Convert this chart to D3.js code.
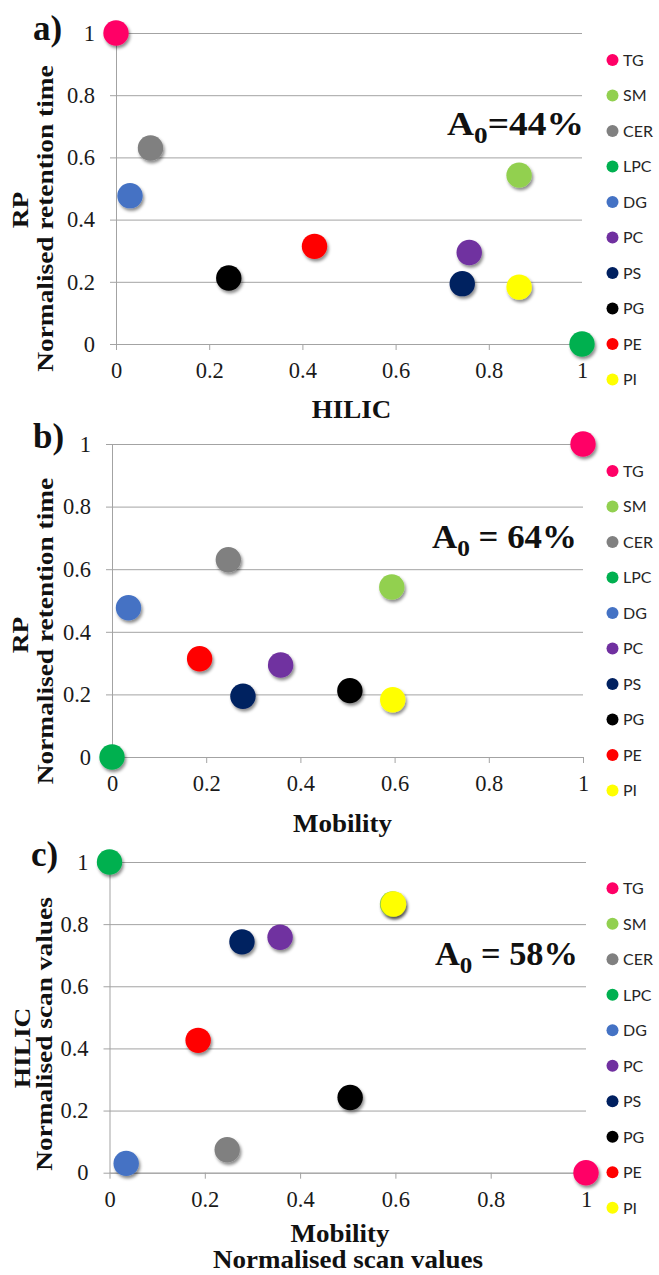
<!DOCTYPE html>
<html>
<head>
<meta charset="utf-8">
<script src="https://cdn.jsdelivr.net/npm/d3@7"></script>
<style>
  html, body { margin: 0; padding: 0; background: #fff; }
  svg { display: block; }
  .title { font-family: "Liberation Serif", "Times New Roman", serif; font-weight: bold; fill: #111; }
  .legend text { font-family: Lato, "Open Sans", sans-serif; font-size: 16px; fill: #262626; }
</style>
</head>
<body>
<svg id="chart" width="659" height="1275"></svg>
<script>
// Lipid classes, legend colours and normalised coordinates in each separation dimension
const lipids   = ["TG", "SM", "CER", "LPC", "DG", "PC", "PS", "PG", "PE", "PI"];
const colours  = ["#FF0066", "#92D050", "#808080", "#00B050", "#4472C4", "#7030A0", "#002060", "#000000", "#FF0000", "#FFFF00"];
const hilic    = [0, 0.865, 0.074, 1, 0.03, 0.758, 0.743, 0.242, 0.426, 0.865];
const mobility = [1, 0.594, 0.247, 0, 0.035, 0.358, 0.278, 0.505, 0.186, 0.596];
const rp       = [1, 0.543, 0.63, 0, 0.477, 0.294, 0.194, 0.212, 0.314, 0.183];

const tickValues = [0, 0.2, 0.4, 0.6, 0.8, 1];
const tickLabels = ["0", "0.2", "0.4", "0.6", "0.8", "1"];

const panelLetters = ["a)", "b)", "c)"];
const orthogonality = ["44%", "64%", "58%"];
const a0Spaced = [false, true, true];
const xTitles = [["HILIC"], ["Mobility"], ["Mobility", "Normalised scan values"]];
const yTitles = [["RP", "Normalised retention time"], ["RP", "Normalised retention time"], ["HILIC", "Normalised scan values"]];
const xSeries = [hilic, mobility, mobility];
const ySeries = [rp, rp, hilic];

// Plot-area geometry and text placement for each panel
const layout = [
  { left: 116,   right: 582, top: 33,  bottom: 344,
    letter: [33, 40], a0: [584, 135, 137],
    xt: [[351.5, 418]], yt: [[28, 210], [53, 218.5]], legendTop: 60 },
  { left: 112,   right: 583, top: 444, bottom: 757,
    letter: [33, 448], a0: [577, 548, 145],
    xt: [[342.5, 832]], yt: [[28, 635], [53, 631]], legendTop: 471 },
  { left: 109.5, right: 586, top: 862, bottom: 1172.7,
    letter: [31, 866], a0: [578, 965, 143],
    xt: [[340, 1242], [348, 1268]], yt: [[30, 1048], [52, 1034]], legendTop: 888.3 }
];

const serif = '"Liberation Serif", "Times New Roman", Times, serif';

const svg = d3.select("#chart");
svg.append("rect").attr("width", 659).attr("height", 1275).attr("fill", "#fff");

const defs = svg.append("defs");
defs.append("filter")
    .attr("id", "dotShadow")
    .attr("x", "-60%").attr("y", "-60%").attr("width", "220%").attr("height", "220%")
  .append("feDropShadow")
    .attr("dx", 1.5).attr("dy", 2.5).attr("stdDeviation", 1.8)
    .attr("flood-color", "#000").attr("flood-opacity", 0.45);

const gridColour = "#a3a3a3";

function styleTickText(sel) {
  sel.attr("font-family", serif)
     .attr("font-size", 22.5)
     .attr("fill", "#1a1a1a")
     .style("font-family", serif)
     .style("font-size", "22.5px");
}

layout.forEach((L, p) => {
  const g = svg.append("g");
  const x = d3.scaleLinear().domain([0, 1]).range([L.left, L.right]);
  const y = d3.scaleLinear().domain([0, 1]).range([L.bottom, L.top]);
  const w = L.right - L.left;

  // horizontal gridlines + y tick labels
  const yAxis = g.append("g")
      .attr("transform", `translate(${L.left},0)`)
      .call(d3.axisLeft(y).tickValues(tickValues)
              .tickFormat((d, i) => tickLabels[i])
              .tickSizeInner(-w).tickSizeOuter(0).tickPadding(21));
  yAxis.attr("font-family", serif).attr("font-size", 22.5);
  yAxis.select(".domain").attr("stroke", gridColour).attr("stroke-width", 1);
  yAxis.selectAll(".tick line").attr("x1", -6).attr("stroke", gridColour).attr("stroke-width", 1);
  styleTickText(yAxis.selectAll(".tick text"));

  // x axis with downward ticks
  const xAxis = g.append("g")
      .attr("transform", `translate(0,${L.bottom})`)
      .call(d3.axisBottom(x).tickValues(tickValues)
              .tickFormat((d, i) => tickLabels[i])
              .tickSizeInner(6).tickSizeOuter(0).tickPadding(12));
  xAxis.attr("font-family", serif).attr("font-size", 22.5);
  xAxis.select(".domain").attr("stroke", gridColour).attr("stroke-width", 1);
  xAxis.selectAll(".tick line").attr("stroke", gridColour).attr("stroke-width", 1);
  styleTickText(xAxis.selectAll(".tick text"));

  // data points, drawn in legend order
  const pts = lipids.map((name, i) => ({ name, c: colours[i], vx: xSeries[p][i], vy: ySeries[p][i] }));
  g.append("g").selectAll("circle").data(pts).join("circle")
      .attr("cx", d => x(d.vx))
      .attr("cy", d => y(d.vy))
      .attr("r", 12.7)
      .attr("fill", d => d.c)
      .attr("filter", "url(#dotShadow)");

  // panel letter
  g.append("text").attr("class", "title")
      .attr("x", L.letter[0]).attr("y", L.letter[1])
      .attr("font-size", 35).text(panelLetters[p]);

  // orthogonality annotation
  const a0 = g.append("text").attr("class", "title").attr("font-size", 33);
  a0.append("tspan").text("A");
  a0.append("tspan").attr("font-size", 24).attr("dy", 8).text("0");
  a0.append("tspan").attr("dy", -8).text(a0Spaced[p] ? " = " + orthogonality[p] : "=" + orthogonality[p]);
  const natural = a0.node().getComputedTextLength();
  const s = L.a0[2] / natural;
  a0.attr("transform", `translate(${L.a0[0] - L.a0[2]},${L.a0[1]}) scale(${s},1)`);

  // x-axis title lines
  xTitles[p].forEach((t, k) => {
    g.append("text").attr("class", "title")
        .attr("font-size", 25).attr("text-anchor", "middle")
        .attr("transform", `translate(${L.xt[k][0]},${L.xt[k][1]}) scale(1.08,1)`)
        .text(t);
  });

  // y-axis title lines (rotated)
  yTitles[p].forEach((t, k) => {
    g.append("text").attr("class", "title")
        .attr("font-size", 23).attr("text-anchor", "middle")
        .attr("transform", `translate(${L.yt[k][0]},${L.yt[k][1]}) rotate(-90) scale(1.19,1)`)
        .text(t);
  });

  // legend
  const lg = g.append("g").attr("class", "legend");
  const row = d3.scalePoint().domain(lipids).range([L.legendTop, L.legendTop + 35.5 * 9]);
  const items = lg.selectAll("g").data(pts).join("g")
      .attr("transform", d => `translate(612.5,${row(d.name)})`);
  items.append("circle").attr("r", 6).attr("fill", d => d.c);
  items.append("text").attr("x", 10.5).attr("dy", "0.36em").text(d => d.name);
});
</script>
</body>
</html>
